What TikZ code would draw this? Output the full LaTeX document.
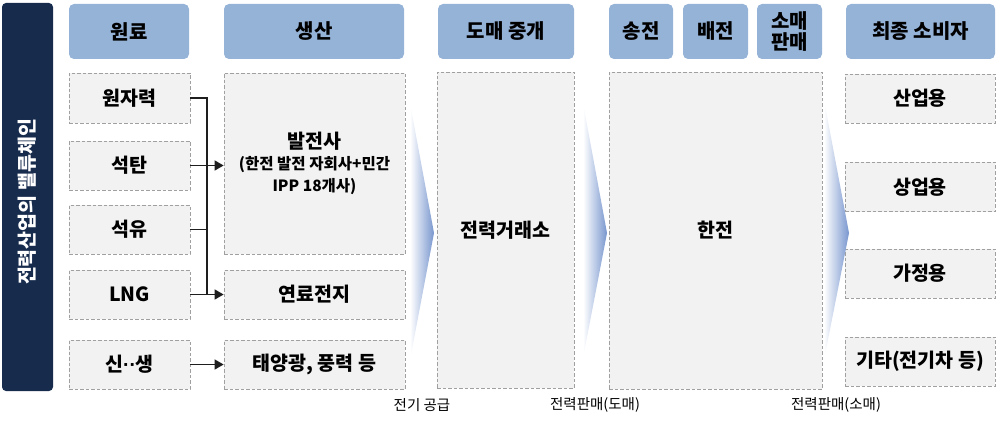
\documentclass[tikz,border=0pt]{standalone}
\usepackage{fontspec}
\setmainfont{Noto Sans CJK KR}
\newfontfamily\dotfont{Liberation Sans}
\usetikzlibrary{arrows.meta,calc}
\definecolor{hdrblue}{RGB}{149,178,215}
\definecolor{boxgray}{RGB}{242,242,242}
\definecolor{dashgray}{RGB}{160,160,160}
\definecolor{navy}{RGB}{23,43,77}
\definecolor{chevblue}{RGB}{120,150,206}
\definecolor{linegray}{RGB}{30,30,30}
\tikzset{
  hdr/.style={fill=hdrblue, rounded corners=5pt, inner sep=0pt, align=center,
    font=\fontsize{20}{22}\selectfont\bfseries},
  bodybox/.style={fill=boxgray, draw=dashgray, dash pattern=on 3.5pt off 2pt,
    line width=0.7pt, inner sep=0pt, align=center,
    font=\fontsize{19.5}{22}\selectfont\bfseries},
  conn/.style={draw=linegray, line width=1.3pt},
  arr/.style={conn, -{Triangle[length=9pt,width=10pt]}},
  foot/.style={font=\fontsize{14.5}{16}\selectfont, inner sep=0pt},
  chev/.style={left color=white, right color=chevblue, draw=none}
}
\begin{document}
\begin{tikzpicture}[x=1pt,y=-1pt]
\useasboundingbox (0,0) rectangle (1000,422);
% left bar
\node[fill=navy, rounded corners=4pt, minimum width=51pt, minimum height=388pt, inner sep=0pt] (bar) at (27.5,197) {};
\node[rotate=90, text=white, font=\fontsize{19.5}{21}\selectfont\bfseries] (bartxt) at (27.5,202) {전력산업의 밸류체인};
% headers
\node[hdr, minimum width=120pt, minimum height=55pt] (h1) at (129,31.5) {원료};
\node[hdr, minimum width=180pt, minimum height=55pt] (h2) at (314,31.5) {생산};
\node[hdr, minimum width=136pt, minimum height=55pt] (h3) at (506,31.5) {도매 중개};
\node[hdr, minimum width=64pt, minimum height=55pt] (h4) at (641,31.5) {송전};
\node[hdr, minimum width=65pt, minimum height=55pt] (h5) at (715.5,31.5) {배전};
\node[hdr, minimum width=65pt, minimum height=55pt, font=\fontsize{20}{21}\selectfont\bfseries] (h6) at (789.5,31.5) {소매\\판매};
\node[hdr, minimum width=149pt, minimum height=55pt] (h7) at (920.5,31.5) {최종 소비자};
% raw materials
\node[bodybox, minimum width=121pt, minimum height=50pt] (b1) at (129.5,98) {원자력};
\node[bodybox, minimum width=121pt, minimum height=49pt] (b2) at (129.5,165.5) {석탄};
\node[bodybox, minimum width=121pt, minimum height=49pt] (b3) at (129.5,229.5) {석유};
\node[bodybox, minimum width=121pt, minimum height=49pt] (b4) at (129.5,294.5) {LNG};
\node[bodybox, minimum width=121pt, minimum height=49pt] (b5) at (129.5,364.5) {신{\dotfont\bfseries ··}생};
% production
\node[bodybox, minimum width=181pt, minimum height=181pt] (p1) at (314.5,163.5) {발전사\\[-1pt]{\fontsize{15.5}{20}\selectfont (한전 발전 자회사+민간}\\{\fontsize{15.5}{20}\selectfont IPP 18개사)}};
\node[bodybox, minimum width=181pt, minimum height=49pt] (p2) at (314.5,294.5) {연료전지};
\node[bodybox, minimum width=181pt, minimum height=49pt] (p3) at (314.5,364.5) {태양광, 풍력 등};
% wholesale
\node[bodybox, minimum width=137pt, minimum height=316pt] (m) at (505.5,230) {전력거래소};
% kepco
\node[bodybox, minimum width=213pt, minimum height=317pt] (k) at (715.5,230.5) {한전};
% consumers
\node[bodybox, minimum width=150pt, minimum height=49pt] (c1) at (920,98.5) {산업용};
\node[bodybox, minimum width=150pt, minimum height=49pt] (c2) at (920,187) {상업용};
\node[bodybox, minimum width=150pt, minimum height=49pt] (c3) at (920,273.5) {가정용};
\node[bodybox, minimum width=150pt, minimum height=49pt] (c4) at (920,361.5) {기타(전기차 등)};
% chevrons
\shade[chev] (410,103) -- (434,233) -- (410,360) -- cycle;
\shade[chev] (583,103) -- (607,233) -- (583,358) -- cycle;
\shade[chev] (824,100) -- (849,233) -- (824,360) -- cycle;
% connectors
\coordinate (tr) at (207,0);
\draw[arr] (b1.east) -| (tr |- b4.east) -- (p2.west);
\draw[arr] (b2.east) -- (b2.east -| p1.west);
\draw[conn] (b3.east) -- (b3.east -| tr);
\draw[conn] (b4.east) -- (b4.east -| tr);
\draw[arr] (b5.east) -- (p3.west);
% footer labels
\node[foot] (f1) at (422,405) {전기 공급};
\node[foot] (f2) at (595,405) {전력판매(도매)};
\node[foot] (f3) at (836,405) {전력판매(소매)};
\end{tikzpicture}
\end{document}
